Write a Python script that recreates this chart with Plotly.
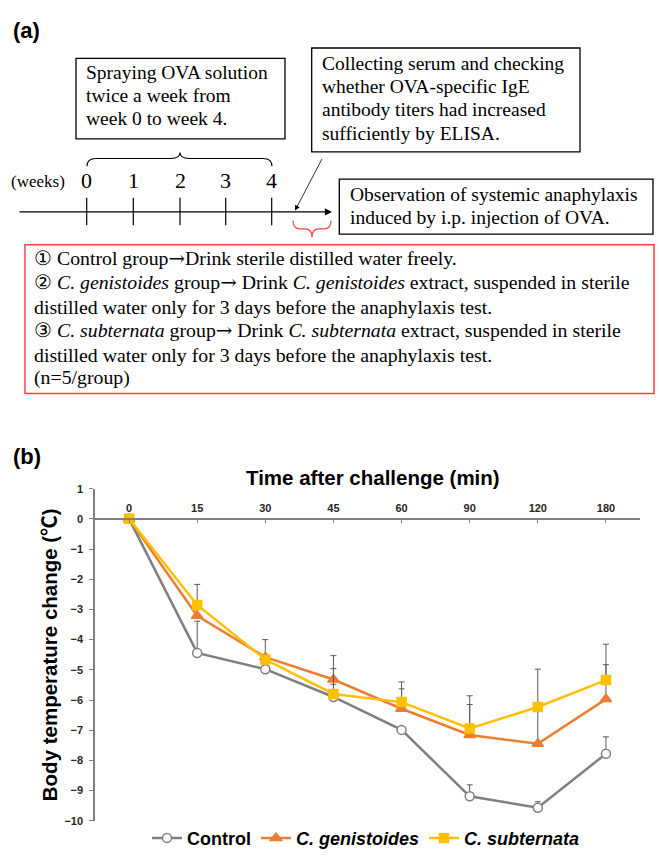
import plotly.graph_objects as go

# ---------------- data ----------------
time_labels = ["0", "15", "30", "45", "60", "90", "120", "180"]
control = [0, -4.44, -4.98, -5.90, -6.99, -9.19, -9.57, -7.78]
control_err = [0, 1.05, 0.12, 0.42, 0.10, 0.38, 0.20, 0.56]
genistoides = [0, -3.21, -4.58, -5.32, -6.29, -7.16, -7.45, -5.97]
genistoides_err = [0, 0.25, 0.58, 0.79, 0.66, 1.01, 1.22, 1.14]
subternata = [0, -2.85, -4.66, -5.80, -6.07, -6.94, -6.23, -5.34]
subternata_err = [0, 0.68, 0.15, 0.84, 0.67, 1.08, 1.25, 1.19]
y_ticks = [1, 0, -1, -2, -3, -4, -5, -6, -7, -8, -9, -10]
sig_marks = [("15", -2.47), ("15", -4.02), ("120", -5.67)]

weeks = ["0", "1", "2", "3", "4"]
box1_lines = ["Spraying OVA solution", "twice a week from", "week 0 to week 4."]
box2_lines = ["Collecting serum and checking", "whether OVA-specific IgE",
              "antibody titers had increased", "sufficiently by ELISA."]
box3_lines = ["Observation of systemic anaphylaxis", "induced by i.p. injection of OVA."]
ARW = '<span style="font-family:DejaVu Serif">→</span>'
group_lines = [
    "① Control group" + ARW + "Drink sterile distilled water freely.",
    "② <i>C. genistoides</i> group" + ARW + " Drink <i>C. genistoides</i> extract, suspended in sterile",
    "distilled water only for 3 days before the anaphylaxis test.",
    "③ <i>C. subternata</i> group" + ARW + " Drink <i>C. subternata</i> extract, suspended in sterile",
    "distilled water only for 3 days before the anaphylaxis test.",
    "(n=5/group)",
]

# ---------------- helpers ----------------
W, H = 660, 857
def X(px):
    return px / W
def Y(py):
    return 1 - py / H

SERIF = "Liberation Serif, Times New Roman, DejaVu Serif, serif"
SANS = "Liberation Sans, Arial, Noto Sans CJK JP, sans-serif"
GRAY = "#7f7f7f"
ORANGE = "#ED7D31"
YELLOW = "#FFC000"
ERRC = "#595959"
RED = "#ff4040"

fig = go.Figure()

def add_series(name, y, err, color, symbol, fill, size):
    fig.add_trace(go.Scatter(
        x=time_labels, y=y, name=name, mode="lines+markers",
        line=dict(color=color, width=2.5),
        marker=dict(symbol=symbol, size=size, color=fill,
                    line=dict(color=color, width=1.5)),
        error_y=dict(type="data", array=err, arrayminus=[0] * len(err),
                     symmetric=False, color=ERRC, thickness=1, width=3),
    ))

add_series("Control", control, control_err, GRAY, "circle", "white", 9)
add_series("<i>C. genistoides</i>", genistoides, genistoides_err, ORANGE, "triangle-up", ORANGE, 10)
add_series("<i>C. subternata</i>", subternata, subternata_err, YELLOW, "square", YELLOW, 9)

for xcat, yv in sig_marks:
    fig.add_annotation(x=xcat, y=yv, xref="x", yref="y", text="*", showarrow=False,
                       xanchor="center", yanchor="middle",
                       xshift=13, yshift=-5, font=dict(family=SANS, size=24, color="black"))

ydom = [Y(828.3), Y(490.7)]
xpos = ydom[0] + (ydom[1] - ydom[0]) * 10 / 11

fig.update_layout(
    width=W, height=H, margin=dict(l=0, r=0, t=0, b=0),
    paper_bgcolor="white", plot_bgcolor="white",
    xaxis=dict(domain=[X(95), X(640)], type="category", range=[-0.5, 7.5],
               side="top", anchor="free", position=xpos,
               showline=True, linecolor=GRAY, linewidth=1.5,
               ticks="inside", ticklen=3, tickcolor=GRAY, tickwidth=1,
               showgrid=False, zeroline=False, ticklabelstandoff=2,
               tickfont=dict(family=SANS, size=11, color="#262626", weight="bold")),
    yaxis=dict(domain=ydom, range=[-10, 1], tickvals=y_ticks,
               showline=True, linecolor=GRAY, linewidth=1.5,
               ticks="outside", ticklen=4, tickcolor=GRAY, tickwidth=1,
               showgrid=False, zeroline=False, ticklabelstandoff=4,
               tickfont=dict(family=SANS, size=11, color="#262626", weight="bold")),
    showlegend=True,
    legend=dict(orientation="h", x=X(366), xanchor="center", y=Y(846), yanchor="middle",
                font=dict(family=SANS, size=18, color="black", weight="bold"),
                itemwidth=30, bgcolor="rgba(0,0,0,0)", tracegroupgap=0),
)

# axis titles and panel labels
def ann(x, y, t, size, family=SANS, weight="normal", xa="center", ya="middle", angle=0, h=None):
    fig.add_annotation(x=X(x), y=Y(y), xref="paper", yref="paper", showarrow=False,
                       xanchor=xa, yanchor=ya, text=t, textangle=angle, height=h,
                       font=dict(family=family, size=size, color="black", weight=weight))

ann(372.5, 479, "Time after challenge (min)", 20.5, weight="bold")
ann(49, 660, "Body temperature change (℃)", 20.5, weight="bold", angle=-90)
ann(11, 25, "(a)", 22, weight="bold", xa="left")
ann(11, 458, "(b)", 22, weight="bold", xa="left")

# ---------------- panel (a) diagram ----------------
def rect(x0, y0, x1, y1, color="black", width=1.3):
    fig.add_shape(type="rect", xref="paper", yref="paper",
                  x0=X(x0), x1=X(x1), y0=Y(y1), y1=Y(y0),
                  line=dict(color=color, width=width), fillcolor="white", layer="below")

def line(x0, y0, x1, y1, color="black", width=1.3):
    fig.add_shape(type="line", xref="paper", yref="paper",
                  x0=X(x0), x1=X(x1), y0=Y(y0), y1=Y(y1),
                  line=dict(color=color, width=width))

def path(pts_cmds, color="black", width=1.2):
    s = ""
    for cmd, coords in pts_cmds:
        s += cmd + " " + " ".join(f"{X(a):.5f},{Y(b):.5f}" for a, b in coords) + " "
    fig.add_shape(type="path", xref="paper", yref="paper", path=s.strip(),
                  line=dict(color=color, width=width), fillcolor="rgba(0,0,0,0)")

def text(x, y, t, size=19.5, anchor="left", h=23):
    ann(x, y, t, size, family=SERIF, xa=anchor, h=h)

rect(76, 53.3, 285, 135)
rect(311.7, 42.7, 580, 148.3)
rect(339.3, 176, 653, 232)
rect(25, 242.7, 654, 394, color=RED, width=1.5)

for i, t in enumerate(box1_lines):
    text(84, 68 + i * 23.3, t)
for i, t in enumerate(box2_lines):
    text(320, 58 + i * 23.8, t)
for i, t in enumerate(box3_lines):
    text(348, 191.5 + i * 24, t)
for i, t in enumerate(group_lines):
    text(32, 257 + i * 24.2, t, size=19.8)

# brace above weeks
path([("M", [(87, 163)]), ("Q", [(87, 155), (96, 155)]), ("L", [(171, 155)]),
      ("Q", [(180, 155), (180, 149)]), ("Q", [(180, 155), (189, 155)]),
      ("L", [(263, 155)]), ("Q", [(272, 155), (272, 163)])], width=1.1)

# weeks axis
week_x = [86.7, 133.3, 180, 225.7, 271.7]
text(67, 178, "(weeks)", size=17, anchor="right", h=None)
for wx, wl in zip(week_x, weeks):
    text(wx, 177.5, wl, size=22, anchor="center", h=None)
    line(wx, 195, wx, 223, width=1.2)

# timeline arrow
fig.add_annotation(x=X(332), y=Y(209.3), xref="paper", yref="paper", ax=-314, ay=0,
                   axref="pixel", ayref="pixel", text="", showarrow=True,
                   arrowhead=2, arrowsize=1.1, arrowwidth=1.3, arrowcolor="black")

# thin arrow from box 2
fig.add_annotation(x=X(295), y=Y(208), xref="paper", yref="paper", ax=27.7, ay=-53,
                   axref="pixel", ayref="pixel", text="", showarrow=True,
                   arrowhead=2, arrowsize=1.3, arrowwidth=0.8, arrowcolor="black")

# red brace
path([("M", [(293, 218)]), ("Q", [(293, 226.5), (300, 226.5)]), ("L", [(305, 226.5)]),
      ("Q", [(312, 226.5), (312, 235)]), ("Q", [(312, 226.5), (319, 226.5)]),
      ("L", [(324, 226.5)]), ("Q", [(331, 226.5), (331, 218)])], color=RED, width=1.2)

fig.write_html("out.html")
